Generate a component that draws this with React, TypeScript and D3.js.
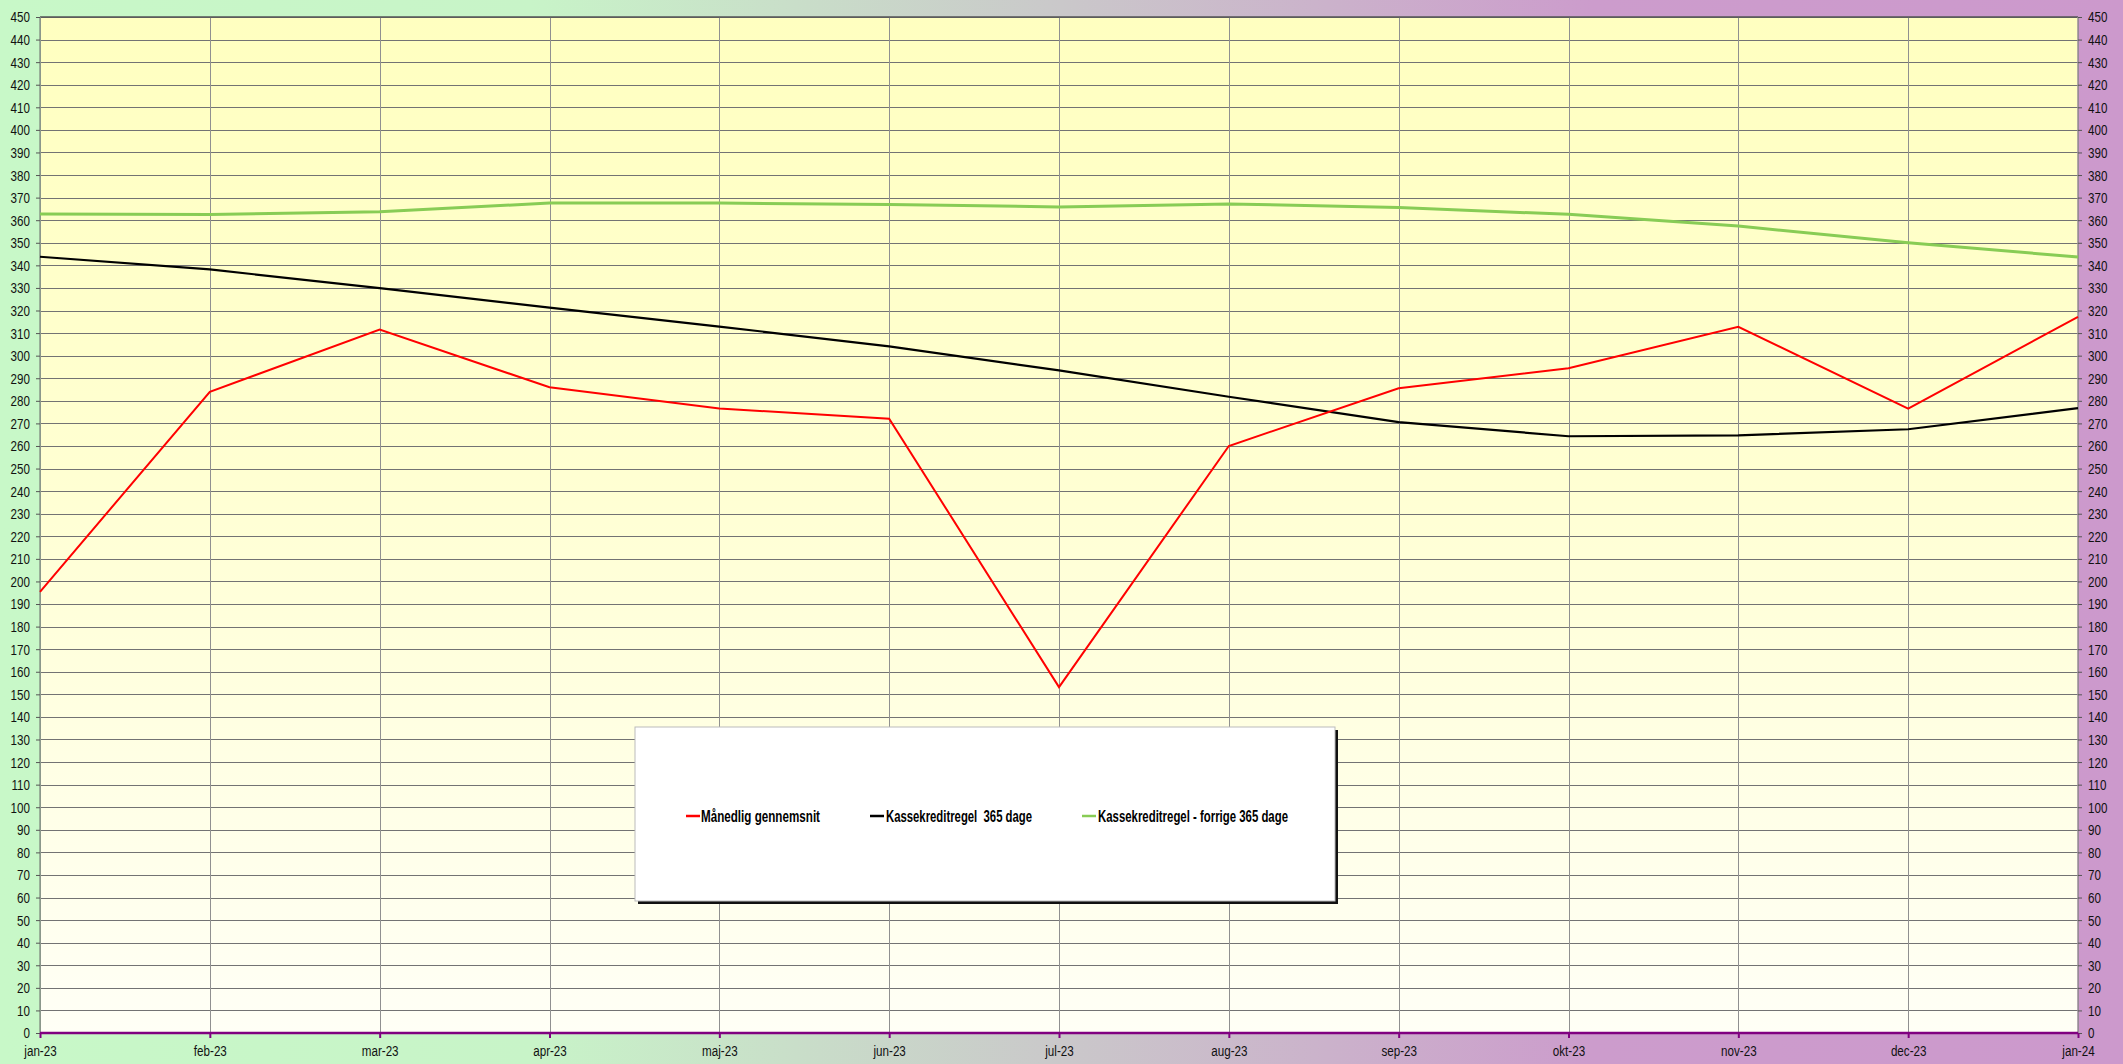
import React, { useEffect, useRef } from "react";
import * as d3 from "d3";

const months = ["jan-23","feb-23","mar-23","apr-23","maj-23","jun-23","jul-23","aug-23","sep-23","okt-23","nov-23","dec-23","jan-24"];
const maanedligGennemsnit = [195.4, 284, 311.6, 286, 276.6, 272.1, 153.2, 260, 285.6, 294.4, 312.8, 276.5, 317.2];
const kassekredit365 = [343.8, 338.2, 329.9, 321.3, 312.9, 304.1, 293.5, 281.8, 270.6, 264.3, 264.7, 267.4, 276.8];
const kassekreditForrige = [362.7, 362.5, 363.7, 367.6, 367.6, 366.9, 365.9, 367.2, 365.6, 362.6, 357.4, 350, 343.7];
const yTicks = d3.range(0, 451, 10);

const seriesNames = ["Månedlig gennemsnit", "Kassekreditregel  365 dage", "Kassekreditregel - forrige 365 dage"];
const seriesColors = ["#ff0000", "#000000", "#88cc55"];
const seriesWidths = [2, 2.2, 3];

const W = 2123, H = 1064;
const plot = { left: 40, right: 2078, top: 17, bottom: 1033 };
const FONT = "'Liberation Sans', Arial, sans-serif";

export default function App() {
  const ref = useRef<SVGSVGElement>(null);

  useEffect(() => {
    const svg = d3.select(ref.current);
    svg.selectAll("*").remove();

    const x = d3.scalePoint<string>().domain(months).range([plot.left, plot.right]);
    const y = d3.scaleLinear().domain([0, 450]).range([plot.bottom, plot.top]);

    const defs = svg.append("defs");
    const bg = defs.append("linearGradient").attr("id", "bg").attr("x1", "0").attr("x2", "1").attr("y1", "0").attr("y2", "0");
    bg.append("stop").attr("offset", "0").attr("stop-color", "#c8f8c8");
    bg.append("stop").attr("offset", "0.25").attr("stop-color", "#c8f4c8");
    bg.append("stop").attr("offset", "0.75").attr("stop-color", "#cc9ccc");
    bg.append("stop").attr("offset", "1").attr("stop-color", "#cc99cc");
    const pg = defs.append("linearGradient").attr("id", "pg").attr("x1", "0").attr("x2", "0").attr("y1", "0").attr("y2", "1");
    pg.append("stop").attr("offset", "0").attr("stop-color", "#ffffc0");
    pg.append("stop").attr("offset", "0.45").attr("stop-color", "#ffffd2");
    pg.append("stop").attr("offset", "1").attr("stop-color", "#fffff6");

    svg.append("rect").attr("width", W).attr("height", H).attr("fill", "url(#bg)");
    svg.append("rect")
      .attr("x", plot.left).attr("y", plot.top)
      .attr("width", plot.right - plot.left).attr("height", plot.bottom - plot.top)
      .attr("fill", "url(#pg)");

    // grid
    const grid = svg.append("g");
    grid.selectAll("line.h").data(yTicks).join("line")
      .attr("x1", plot.left).attr("x2", plot.right)
      .attr("y1", d => Math.round(y(d)) + 0.5).attr("y2", d => Math.round(y(d)) + 0.5)
      .attr("stroke", "#737373").attr("stroke-width", 1);
    grid.selectAll("line.v").data(months).join("line")
      .attr("y1", plot.top).attr("y2", plot.bottom)
      .attr("x1", d => Math.round(x(d)!) + 0.5).attr("x2", d => Math.round(x(d)!) + 0.5)
      .attr("stroke", "#909090").attr("stroke-width", 1);

    // plot frame
    svg.append("line").attr("x1", plot.left).attr("x2", plot.right).attr("y1", plot.top).attr("y2", plot.top)
      .attr("stroke", "#555").attr("stroke-width", 1.5);
    svg.append("line").attr("x1", plot.left).attr("x2", plot.left).attr("y1", plot.top).attr("y2", plot.bottom)
      .attr("stroke", "#8a9a8a").attr("stroke-width", 1.5);
    svg.append("line").attr("x1", plot.right).attr("x2", plot.right).attr("y1", plot.top).attr("y2", plot.bottom)
      .attr("stroke", "#9a8a9a").attr("stroke-width", 1.5);

    // narrow text: compress glyphs horizontally like Arial Narrow
    const narrow = (sel: any, k = 0.75) => {
      sel.each(function (this: SVGTextElement) {
        const w = this.getComputedTextLength();
        d3.select(this).attr("textLength", w * k).attr("lengthAdjust", "spacingAndGlyphs");
      });
    };

    // axes
    const styleAxis = (g: any) => {
      g.select(".domain").remove();
      g.selectAll("text").attr("font-family", FONT).attr("font-size", 15.5).attr("fill", "#111");
      g.selectAll(".tick line").attr("stroke", "#555");
    };
    const gl = svg.append("g").attr("transform", `translate(${plot.left},0)`)
      .call(d3.axisLeft(y).tickValues(yTicks).tickSize(4).tickPadding(6).tickFormat(d3.format("d")))
      .call(styleAxis);
    const gr = svg.append("g").attr("transform", `translate(${plot.right},0)`)
      .call(d3.axisRight(y).tickValues(yTicks).tickSize(4).tickPadding(6).tickFormat(d3.format("d")))
      .call(styleAxis);
    const gb = svg.append("g").attr("transform", `translate(0,${plot.bottom})`)
      .call(d3.axisBottom(x).tickSize(5).tickPadding(7))
      .call(styleAxis)
      .call((g: any) => g.selectAll(".tick line").attr("stroke", "#800080").attr("stroke-width", 2));
    narrow(gl.selectAll("text"));
    narrow(gr.selectAll("text"));
    narrow(gb.selectAll("text"));
    svg.append("line").attr("x1", plot.left).attr("x2", plot.right).attr("y1", plot.bottom).attr("y2", plot.bottom)
      .attr("stroke", "#800080").attr("stroke-width", 2.5);

    // series
    const allSeries = [maanedligGennemsnit, kassekredit365, kassekreditForrige];
    const line = d3.line<number>().x((_, i) => x(months[i])!).y(d => y(d));
    [2, 1, 0].forEach(si => {
      svg.append("path").attr("d", line(allSeries[si])!).attr("fill", "none")
        .attr("stroke", seriesColors[si]).attr("stroke-width", seriesWidths[si])
        .attr("stroke-linejoin", "miter");
    });

    // legend
    const lg = svg.append("g");
    const lb = { x: 635, y: 727, w: 700, h: 174 };
    lg.append("rect").attr("x", lb.x + 3).attr("y", lb.y + 3).attr("width", lb.w).attr("height", lb.h).attr("fill", "#111");
    lg.append("rect").attr("x", lb.x).attr("y", lb.y).attr("width", lb.w).attr("height", lb.h)
      .attr("fill", "#ffffff").attr("stroke", "#bbb").attr("stroke-width", 1);
    const items = [
      { lx: 686, tx: 701, tw: 119 },
      { lx: 870, tx: 886, tw: 146 },
      { lx: 1082, tx: 1098, tw: 190 },
    ];
    const ly = 816;
    items.forEach((it, i) => {
      lg.append("line").attr("x1", it.lx).attr("x2", it.lx + 14).attr("y1", ly).attr("y2", ly)
        .attr("stroke", seriesColors[i]).attr("stroke-width", 2.5);
      lg.append("text").attr("x", it.tx).attr("y", ly).attr("dy", "0.35em")
        .attr("font-family", FONT).attr("font-size", 16.5).attr("font-weight", "bold")
        .attr("textLength", it.tw).attr("lengthAdjust", "spacingAndGlyphs")
        .style("white-space", "pre")
        .attr("fill", "#000").text(seriesNames[i]);
    });
  }, []);

  return (
    <svg ref={ref} width={W} height={H} style={{ position: "absolute", left: 0, top: 0, display: "block" }} />
  );
}
